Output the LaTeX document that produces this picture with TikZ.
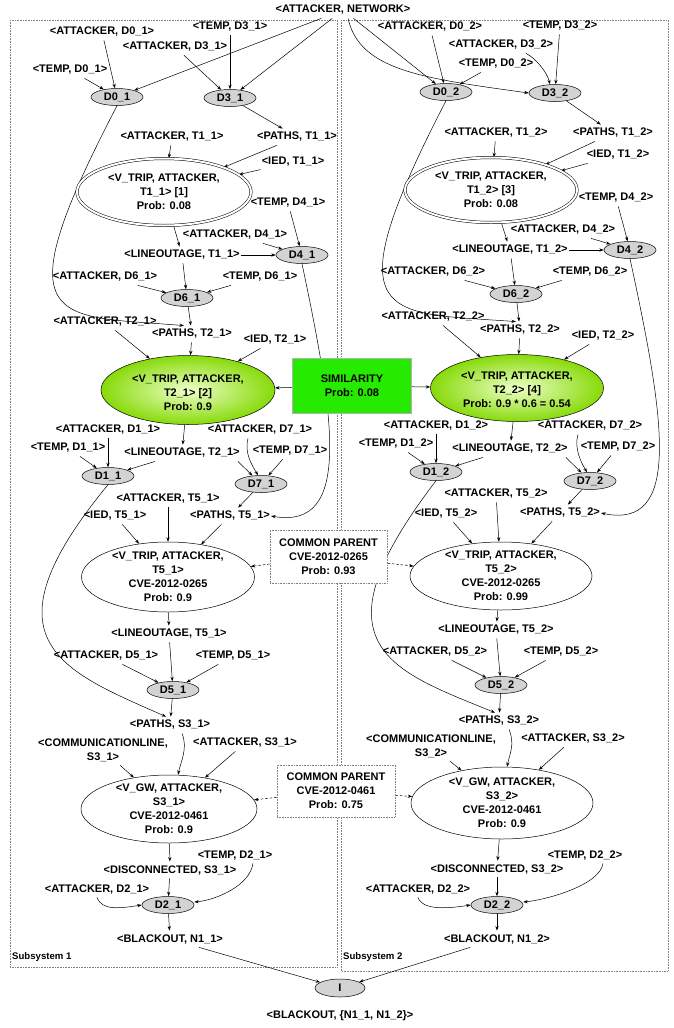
\documentclass[tikz,border=0pt]{standalone}
\usepackage{fontspec}
\setmainfont{Liberation Sans}
\usetikzlibrary{arrows.meta,shapes.geometric,backgrounds,calc}
\begin{document}
\begin{tikzpicture}[x=1pt,y=-1pt,
  every node/.style={font=\fontsize{11}{14}\selectfont\bfseries},
  lbl/.style={inner xsep=1pt, inner ysep=3.5pt, align=center},
  dn/.style={ellipse, draw, line width=0.5pt, fill={rgb,255:red,211;green,211;blue,211}, minimum width=52pt, minimum height=17pt, inner sep=0pt},
  big/.style={ellipse, draw, line width=0.5pt, fill=white, inner sep=0pt},
  dbl/.style={big, double, double distance=2pt},
  grn/.style={ellipse, draw, line width=0.5pt, inner sep=0pt, inner color={rgb,255:red,238;green,255;blue,200}, outer color={rgb,255:red,135;green,218;blue,10}},
  txt/.style={align=center, inner sep=0pt},
  arr/.style={-{Stealth[length=4.5pt,width=3.2pt]}, line width=0.5pt},
  dsh/.style={arr, dash pattern=on 2.5pt off 2pt},
  sub/.style={draw=gray, densely dotted, line width=0.6pt},
  cpbox/.style={draw=gray, densely dotted, line width=0.6pt, fill=white, inner sep=0pt, align=center},
  simbox/.style={draw=gray!60, line width=0.4pt, fill={rgb,255:red,38;green,235;blue,0}, inner sep=0pt, align=center},
  subl/.style={font=\fontsize{9.6}{11}\selectfont\bfseries, anchor=west, inner sep=0pt}
]
\useasboundingbox (0,0) rectangle (673,1028);

% ---------- top
\node[lbl] (net) at (343,10) {<ATTACKER, NETWORK>};

% ---------- subsystem 1
\node[lbl] (a01) at (102,32) {<ATTACKER, D0\_1>};
\node[lbl] (t31) at (230,27) {<TEMP, D3\_1>};
\node[lbl] (a31) at (175,47) {<ATTACKER, D3\_1>};
\node[lbl] (t01) at (70,70) {<TEMP, D0\_1>};
\node[dn] (D01) at (117,97) {D0\_1};
\node[dn] (D31) at (230,98) {D3\_1};
\node[lbl] (a11) at (172,137) {<ATTACKER, T1\_1>};
\node[lbl] (p11) at (297,137) {<PATHS, T1\_1>};
\node[lbl] (i11) at (293,162) {<IED, T1\_1>};
\node[dbl, minimum width=174pt, minimum height=67pt] (T11) at (164,192) {};
\node[txt] at (T11) {<V\_TRIP, ATTACKER,\\T1\_1> [1]\\Prob: 0.08};
\node[lbl] (t41) at (288,203) {<TEMP, D4\_1>};
\node[lbl] (a41) at (235,235) {<ATTACKER, D4\_1>};
\node[lbl] (l11) at (182,255) {<LINEOUTAGE, T1\_1>};
\node[dn] (D41) at (302,255) {D4\_1};
\node[lbl] (a61) at (105,277) {<ATTACKER, D6\_1>};
\node[lbl] (t61) at (260,277) {<TEMP, D6\_1>};
\node[dn] (D61) at (187,298) {D6\_1};
\node[lbl] (a21) at (105,322) {<ATTACKER, T2\_1>};
\node[lbl] (p21) at (192,334) {<PATHS, T2\_1>};
\node[lbl] (i21) at (275,340) {<IED, T2\_1>};
\node[grn, minimum width=174pt, minimum height=69pt] (T21) at (188,390) {};
\node[txt] at (188,393) {<V\_TRIP, ATTACKER,\\T2\_1> [2]\\Prob: 0.9};
\node[simbox, minimum width=119pt, minimum height=55pt] (SIM) at (352,386) {SIMILARITY\\Prob: 0.08};
\node[lbl] (a1d1) at (108,430) {<ATTACKER, D1\_1>};
\node[lbl] (a71) at (260,430) {<ATTACKER, D7\_1>};
\node[lbl] (t1d1) at (68,448) {<TEMP, D1\_1>};
\node[lbl] (l21) at (182,453) {<LINEOUTAGE, T2\_1>};
\node[lbl] (t71) at (290,451) {<TEMP, D7\_1>};
\node[dn] (D11) at (108,476) {D1\_1};
\node[dn] (D71) at (261,484) {D7\_1};
\node[lbl] (a51t) at (168,499) {<ATTACKER, T5\_1>};
\node[lbl] (i51) at (115,516) {<IED, T5\_1>};
\node[lbl] (p51) at (230,516) {<PATHS, T5\_1>};
\node[big, minimum width=173pt, minimum height=70pt] (T51) at (168,577) {};
\node[txt] at (T51) {<V\_TRIP, ATTACKER,\\T5\_1>\\CVE-2012-0265\\Prob: 0.9};
\node[cpbox, minimum width=117pt, minimum height=53pt] (CP1) at (328.5,556.5) {COMMON PARENT\\CVE-2012-0265\\Prob: 0.93};
\node[lbl] (l51) at (169,634) {<LINEOUTAGE, T5\_1>};
\node[lbl] (a5d1) at (106,656) {<ATTACKER, D5\_1>};
\node[lbl] (t5d1) at (233,656) {<TEMP, D5\_1>};
\node[dn] (D51) at (173,690) {D5\_1};
\node[lbl] (ps1) at (170,725) {<PATHS, S3\_1>};
\node[lbl] (c1) at (103,750) {<COMMUNICATIONLINE,\\S3\_1>};
\node[lbl] (as1) at (245,743) {<ATTACKER, S3\_1>};
\node[big, minimum width=176pt, minimum height=68pt] (G1) at (169,809) {};
\node[txt] at (G1) {<V\_GW, ATTACKER,\\S3\_1>\\CVE-2012-0461\\Prob: 0.9};
\node[cpbox, minimum width=118pt, minimum height=52pt] (CP2) at (336,791) {COMMON PARENT\\CVE-2012-0461\\Prob: 0.75};
\node[lbl] (t2d1) at (235,855) {<TEMP, D2\_1>};
\node[lbl] (ds1) at (170,870) {<DISCONNECTED, S3\_1>};
\node[lbl] (a2d1) at (97,889) {<ATTACKER, D2\_1>};
\node[dn] (D21) at (168,905) {D2\_1};
\node[lbl] (b1) at (170,939) {<BLACKOUT, N1\_1>};
\node[subl] (s1) at (12,957) {Subsystem 1};

% ---------- subsystem 2
\node[lbl] (a02) at (430,27) {<ATTACKER, D0\_2>};
\node[lbl] (t32) at (560,26) {<TEMP, D3\_2>};
\node[lbl] (a32) at (501,45) {<ATTACKER, D3\_2>};
\node[lbl] (t02) at (496,64) {<TEMP, D0\_2>};
\node[dn] (D02) at (446,92) {D0\_2};
\node[dn] (D32) at (555,93) {D3\_2};
\node[lbl] (a12) at (496,133) {<ATTACKER, T1\_2>};
\node[lbl] (p12) at (613,133) {<PATHS, T1\_2>};
\node[lbl] (i12) at (618,155) {<IED, T1\_2>};
\node[dbl, minimum width=172pt, minimum height=65pt] (T12) at (491,190) {};
\node[txt] at (T12) {<V\_TRIP, ATTACKER,\\T1\_2> [3]\\Prob: 0.08};
\node[lbl] (t42) at (616,198) {<TEMP, D4\_2>};
\node[lbl] (a42) at (563,230) {<ATTACKER, D4\_2>};
\node[lbl] (l12) at (510,250) {<LINEOUTAGE, T1\_2>};
\node[dn] (D42) at (630,250) {D4\_2};
\node[lbl] (a62) at (433,272) {<ATTACKER, D6\_2>};
\node[lbl] (t62) at (590,272) {<TEMP, D6\_2>};
\node[dn] (D62) at (516,294) {D6\_2};
\node[lbl] (a22) at (433,317) {<ATTACKER, T2\_2>};
\node[lbl] (p22) at (520,330) {<PATHS, T2\_2>};
\node[lbl] (i22) at (603,336) {<IED, T2\_2>};
\node[grn, minimum width=173pt, minimum height=67pt] (T22) at (517,388) {};
\node[txt] at (517,390) {<V\_TRIP, ATTACKER,\\T2\_2> [4]\\Prob: 0.9 * 0.6 = 0.54};
\node[lbl] (a1d2) at (436,426) {<ATTACKER, D1\_2>};
\node[lbl] (a72) at (590,426) {<ATTACKER, D7\_2>};
\node[lbl] (t1d2) at (396,444) {<TEMP, D1\_2>};
\node[lbl] (l22) at (510,449) {<LINEOUTAGE, T2\_2>};
\node[lbl] (t72) at (618,447) {<TEMP, D7\_2>};
\node[dn] (D12) at (436,472) {D1\_2};
\node[dn] (D72) at (590,481) {D7\_2};
\node[lbl] (a52t) at (496,494) {<ATTACKER, T5\_2>};
\node[lbl] (i52) at (446,514) {<IED, T5\_2>};
\node[lbl] (p52) at (560,513) {<PATHS, T5\_2>};
\node[big, minimum width=182pt, minimum height=68pt] (T52) at (501,576) {};
\node[txt] at (T52) {<V\_TRIP, ATTACKER,\\T5\_2>\\CVE-2012-0265\\Prob: 0.99};
\node[lbl] (l52) at (496,630) {<LINEOUTAGE, T5\_2>};
\node[lbl] (a5d2) at (435,652) {<ATTACKER, D5\_2>};
\node[lbl] (t5d2) at (561,652) {<TEMP, D5\_2>};
\node[dn] (D52) at (501,685) {D5\_2};
\node[lbl] (ps2) at (499,721) {<PATHS, S3\_2>};
\node[lbl] (c2) at (431,746) {<COMMUNICATIONLINE,\\S3\_2>};
\node[lbl] (as2) at (573,739) {<ATTACKER, S3\_2>};
\node[big, minimum width=182pt, minimum height=72pt] (G2) at (502,803) {};
\node[txt] at (G2) {<V\_GW, ATTACKER,\\S3\_2>\\CVE-2012-0461\\Prob: 0.9};
\node[lbl] (t2d2) at (585,855) {<TEMP, D2\_2>};
\node[lbl] (ds2) at (497,869) {<DISCONNECTED, S3\_2>};
\node[lbl] (a2d2) at (418,889) {<ATTACKER, D2\_2>};
\node[dn] (D22) at (497,905) {D2\_2};
\node[lbl] (b2) at (497,939) {<BLACKOUT, N1\_2>};
\node[subl] (s2) at (343,957) {Subsystem 2};

% ---------- bottom
\node[dn, minimum width=50pt, minimum height=18pt] (I) at (340,988) {I};
\node[lbl] (bt) at (340,1016) {<BLACKOUT, \{N1\_1, N1\_2\}>};

\begin{pgfonlayer}{background}
\draw[sub] (10,20) rectangle (337,967);
\draw[sub] (341,20) rectangle (668,971);

% top edges
\draw[arr] (net) -- (D01);
\draw[arr] (net) -- (D31);
\draw[arr] (net) -- (D02);
\draw[arr] ([xshift=5pt]net.south) .. controls (360,70) and (420,78) .. (D32.west);

% subsystem 1 edges
\draw[arr] (a01) -- (D01);
\draw[arr] (t01) -- (D01);
\draw[arr] (t31) -- (D31);
\draw[arr] (a31) -- (D31);
\draw[arr] (D31) -- (p11);
\draw[arr] (D01.south) .. controls (0,330) and (55,315) .. ([xshift=-8pt]p21.north);
\draw[arr] (a11) -- (T11);
\draw[arr] (p11) -- (T11);
\draw[arr] (i11) -- (T11);
\draw[arr] (T11) -- (l11);
\draw[arr] (l11) -- (D41);
\draw[arr] (t41) -- (D41);
\draw[arr] (a41) -- (D41);
\draw[arr] (l11) -- (D61);
\draw[arr] (a61) -- (D61);
\draw[arr] (t61) -- (D61);
\draw[arr] (D61) -- (p21);
\draw[arr] (D41.south) .. controls (335,420) and (352,530) .. (p51.east);
\draw[arr] (a21) -- (T21);
\draw[arr] (p21) -- (T21);
\draw[arr] (i21) -- (T21);
\draw[arr] (SIM) -- (T21);
\draw[arr] (T21) -- (l21);
\draw[arr] (l21) -- (D11);
\draw[arr] (a1d1) -- (D11);
\draw[arr] (t1d1) -- (D11);
\draw[arr] ([xshift=-12pt]a71.south) .. controls +(-4,14) and +(-6,-10) .. ([xshift=-3pt]D71.north);
\draw[arr] ([xshift=-3pt]l21.south east) -- (D71);
\draw[arr] (t71) -- (D71);
\draw[arr] (D71) -- (p51);
\draw[arr] (D11.south) .. controls (-20,640) and (60,670) .. ([xshift=-4pt]ps1.north);
\draw[arr] (a51t) -- (T51);
\draw[arr] (i51) -- (T51);
\draw[arr] (p51) -- (T51);
\draw[dsh] (CP1) -- (T51);
\draw[dsh] (CP1) -- (T52);
\draw[arr] (T51) -- (l51);
\draw[arr] (l51) -- (D51);
\draw[arr] (a5d1) -- (D51);
\draw[arr] (t5d1) -- (D51);
\draw[arr] (D51) -- (ps1);
\draw[arr] ([xshift=12pt]ps1.south) .. controls +(6,15) and +(3,-14) .. ([xshift=9pt]G1.north);
\draw[arr] (c1) -- (G1);
\draw[arr] (as1) -- (G1);
\draw[dsh] (CP2) -- (G1);
\draw[dsh] (CP2) -- (G2);
\draw[arr] (G1) -- (ds1);
\draw[arr] (ds1) -- (D21);
\draw[arr] (a2d1.south) .. controls +(5,14) and +(-20,3) .. (D21.west);
\draw[arr] ([xshift=18pt]t2d1.south) .. controls +(-3,22) and +(22,-2) .. ([yshift=3pt]D21.east);
\draw[arr] (D21) -- (b1);
\draw[arr] (b1) -- (I);

% subsystem 2 edges
\draw[arr] (a02) -- (D02);
\draw[arr] (t02) -- (D02);
\draw[arr] (t32) -- (D32);
\draw[arr] ([xshift=25pt]a32.south) .. controls +(10,5) and +(-3,-12) .. ([xshift=-5pt]D32.north);
\draw[arr] (D32) -- (p12);
\draw[arr] (D02.south) .. controls (330,325) and (385,312) .. ([xshift=-4pt]p22.north);
\draw[arr] (a12) -- (T12);
\draw[arr] (p12) -- (T12);
\draw[arr] (i12) -- (T12);
\draw[arr] (T12) -- (l12);
\draw[arr] (l12) -- (D42);
\draw[arr] (t42) -- (D42);
\draw[arr] (a42) -- (D42);
\draw[arr] (l12) -- (D62);
\draw[arr] (a62) -- (D62);
\draw[arr] (t62) -- (D62);
\draw[arr] (D62) -- (p22);
\draw[arr] (D42.south) .. controls (665,420) and (682,530) .. (p52.east);
\draw[arr] (a22) -- (T22);
\draw[arr] (p22) -- (T22);
\draw[arr] (i22) -- (T22);
\draw[arr] (SIM) -- (T22);
\draw[arr] (T22) -- (l22);
\draw[arr] (l22) -- (D12);
\draw[arr] (a1d2) -- (D12);
\draw[arr] (t1d2) -- (D12);
\draw[arr] ([xshift=-12pt]a72.south) .. controls +(-4,14) and +(-6,-10) .. ([xshift=-3pt]D72.north);
\draw[arr] ([xshift=-3pt]l22.south east) -- (D72);
\draw[arr] (t72) -- (D72);
\draw[arr] (D72) -- (p52);
\draw[arr] (D12.south) .. controls (310,645) and (390,670) .. ([xshift=-4pt]ps2.north);
\draw[arr] (a52t) -- (T52);
\draw[arr] (i52) -- (T52);
\draw[arr] (p52) -- (T52);
\draw[arr] (T52) -- (l52);
\draw[arr] (l52) -- (D52);
\draw[arr] (a5d2) -- (D52);
\draw[arr] (t5d2) -- (D52);
\draw[arr] (D52) -- (ps2);
\draw[arr] ([xshift=10pt]ps2.south) .. controls +(6,15) and +(3,-14) .. ([xshift=5pt]G2.north);
\draw[arr] (c2) -- (G2);
\draw[arr] (as2) -- (G2);
\draw[arr] (G2) -- (ds2);
\draw[arr] (ds2) -- (D22);
\draw[arr] (a2d2.south) .. controls +(5,14) and +(-20,3) .. (D22.west);
\draw[arr] ([xshift=18pt]t2d2.south) .. controls +(-3,22) and +(22,-2) .. ([yshift=3pt]D22.east);
\draw[arr] (D22) -- (b2);
\draw[arr] (b2) -- (I);
\end{pgfonlayer}
\end{tikzpicture}
\end{document}
